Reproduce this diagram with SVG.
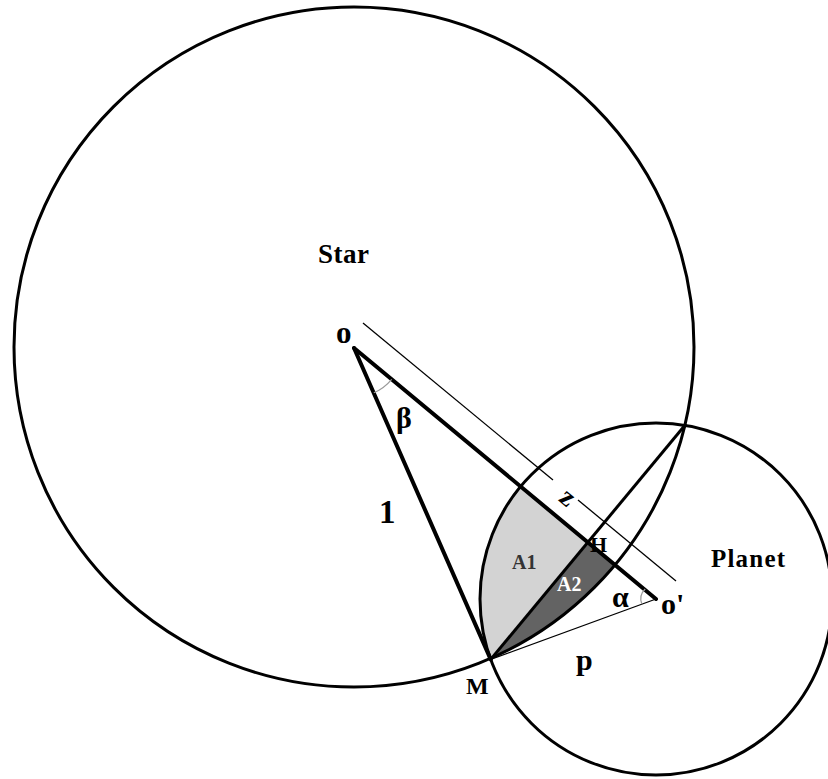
<svg xmlns="http://www.w3.org/2000/svg" width="828" height="779" viewBox="0 0 828 779">
<style>
.circ{fill:none;stroke:#000;stroke-width:3}
.thick{stroke:#000;stroke-width:4;stroke-linecap:round;fill:none}
.mid{stroke:#000;stroke-width:3;fill:none}
.thin{stroke:#000;stroke-width:1.3;fill:none}
.ang{stroke:#999;stroke-width:1.2;fill:none}
.lbl{font-family:"Liberation Serif","Times New Roman",serif;font-weight:bold;fill:#000}
</style>
<rect width="828" height="779" fill="#fff"/>
<g id="regions">
<path id="A1-region" d="M490.7,659.4 A176,176 0 0 1 520.6,486.5 L587.9,542.4 Z" fill="#d3d3d3"/>
<path id="A2-region" d="M490.7,659.4 L587.9,542.4 L615.5,565.3 A340,340 0 0 1 490.7,659.4 Z" fill="#636363"/>
</g>
<g id="star"><circle class="circ" cx="354" cy="347" r="340"/></g>
<g id="planet"><circle class="circ" cx="656" cy="599" r="176"/></g>
<g id="connectors">
<line class="thick" x1="354" y1="348" x2="656" y2="599"/>
<line class="thick" x1="354" y1="348" x2="490.7" y2="659.4"/>
<line class="mid" x1="490.7" y1="659.4" x2="686" y2="424"/>
<line class="thin" x1="490.7" y1="659.4" x2="656" y2="599"/>
<line class="thin" x1="363" y1="323" x2="553" y2="480"/>
<line class="thin" x1="578" y1="500" x2="676" y2="581"/>
<path class="ang" d="M391.7,379.3 A49,49 0 0 1 373.8,392.8"/>
<path class="ang" d="M641.8,604 A14,14 0 0 1 645.2,589"/>
</g>
<g id="labels">
<text class="lbl" x="318" y="263" font-size="27" letter-spacing="0.5">Star</text>
<text class="lbl" x="336" y="343" font-size="31">o</text>
<text class="lbl" x="396" y="428" font-size="30">β</text>
<text class="lbl" x="379" y="523" font-size="33">1</text>
<text class="lbl" x="568" y="506" font-size="28" text-anchor="middle" transform="rotate(40 568 497)">z</text>
<text class="lbl" x="590" y="552" font-size="22">H</text>
<text class="lbl" x="512" y="569" font-size="20" style="fill:#333">A1</text>
<text class="lbl" x="557" y="591" font-size="20" style="fill:#fff">A2</text>
<text class="lbl" x="612" y="607" font-size="30">α</text>
<text class="lbl" x="661" y="614" font-size="30">o'</text>
<text class="lbl" x="711" y="567" font-size="25" letter-spacing="1.2">Planet</text>
<text class="lbl" x="576" y="670" font-size="30">p</text>
<text class="lbl" x="466" y="694" font-size="24">M</text>
</g>
</svg>
